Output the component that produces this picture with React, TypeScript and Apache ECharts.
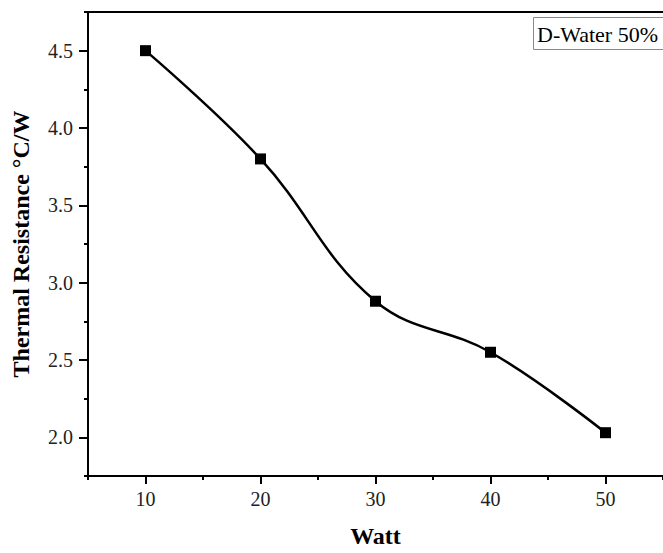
import React, { useEffect, useRef } from "react";
import * as echarts from "echarts";

const watts = [10, 20, 30, 40, 50];
const resistance = [4.5, 3.8, 2.88, 2.55, 2.03];
const xMajorTicks = [10, 20, 30, 40, 50];
const xMinorTicks = [5, 15, 25, 35, 45, 55];
const yMajorTicks = [2.0, 2.5, 3.0, 3.5, 4.0, 4.5];
const yMinorTicks = [1.75, 2.25, 2.75, 3.25, 3.75, 4.25, 4.75];
const legendLabel = "D-Water 50%";
const xTitle = "Watt";
const yTitle = "Thermal Resistance °C/W";

export default function App() {
  const ref = useRef<HTMLDivElement>(null);
  useEffect(() => {
    if (!ref.current) return;
    const chart = echarts.init(ref.current, null, { renderer: "svg" });
    const font = "'Liberation Serif', 'Times New Roman', serif";
    const axisColor = "#000";
    chart.setOption({
      animation: false,
      backgroundColor: "#ffffff",
      grid: { left: 88, top: 12, right: -8, bottom: 70, containLabel: false },
      xAxis: [
        {
          type: "value",
          min: 5,
          max: 55,
          interval: 5,
          name: xTitle,
          nameLocation: "middle",
          nameGap: 48,
          nameTextStyle: { fontFamily: font, fontWeight: "bold", fontSize: 24, color: "#000" },
          axisLine: { show: true, onZero: false, lineStyle: { color: axisColor, width: 2 } },
          axisTick: { show: true, length: 8, lineStyle: { color: axisColor, width: 2 }, customValues: xMajorTicks },
          axisLabel: {
            fontFamily: font,
            fontSize: 20,
            color: "#222",
            margin: 13,
            customValues: xMajorTicks,
            formatter: (v: number) => String(v),
          },
          splitLine: { show: false },
        },
        {
          type: "value",
          min: 5,
          max: 55,
          position: "bottom",
          axisLine: { show: false, onZero: false },
          axisTick: { show: true, length: 4, lineStyle: { color: axisColor, width: 2 }, customValues: xMinorTicks },
          axisLabel: { show: false },
          splitLine: { show: false },
        },
      ],
      yAxis: [
        {
          type: "value",
          min: 1.75,
          max: 4.75,
          interval: 0.25,
          name: yTitle,
          nameLocation: "middle",
          nameGap: 55,
          nameRotate: 90,
          nameTextStyle: { fontFamily: font, fontWeight: "bold", fontSize: 24, color: "#000" },
          axisLine: { show: true, onZero: false, lineStyle: { color: axisColor, width: 2 } },
          axisTick: { show: true, length: 9, lineStyle: { color: axisColor, width: 2 }, customValues: yMajorTicks },
          axisLabel: {
            fontFamily: font,
            fontSize: 20,
            color: "#222",
            margin: 15,
            customValues: yMajorTicks,
            formatter: (v: number) => v.toFixed(1),
          },
          splitLine: { show: false },
        },
        {
          type: "value",
          min: 1.75,
          max: 4.75,
          position: "left",
          axisLine: { show: false, onZero: false },
          axisTick: { show: true, length: 4, lineStyle: { color: axisColor, width: 2 }, customValues: yMinorTicks },
          axisLabel: { show: false },
          splitLine: { show: false },
        },
      ],
      graphic: [
        {
          type: "line",
          shape: { x1: 88, y1: 12, x2: 663, y2: 12 },
          style: { stroke: axisColor, lineWidth: 2 },
          z: 5,
        },
        {
          type: "rect",
          shape: { x: 533.5, y: 17.5, width: 140, height: 32 },
          style: { fill: "#fff", stroke: "#888", lineWidth: 1 },
          z: 10,
        },
        {
          type: "text",
          x: 537,
          y: 34,
          style: {
            text: legendLabel,
            fontFamily: font,
            fontSize: 22,
            fill: "#000",
            verticalAlign: "middle",
            align: "left",
          },
          z: 11,
        },
      ],
      series: [
        {
          type: "line",
          xAxisIndex: 0,
          yAxisIndex: 0,
          data: watts.map((w, i) => [w, resistance[i]]),
          smooth: 0.4,
          symbol: "rect",
          symbolSize: 11,
          lineStyle: { color: "#000", width: 2.5 },
          itemStyle: { color: "#000" },
        },
      ],
    });
    return () => chart.dispose();
  }, []);
  return <div ref={ref} style={{ width: 663, height: 553, position: "absolute", left: 0, top: 0 }} />;
}
